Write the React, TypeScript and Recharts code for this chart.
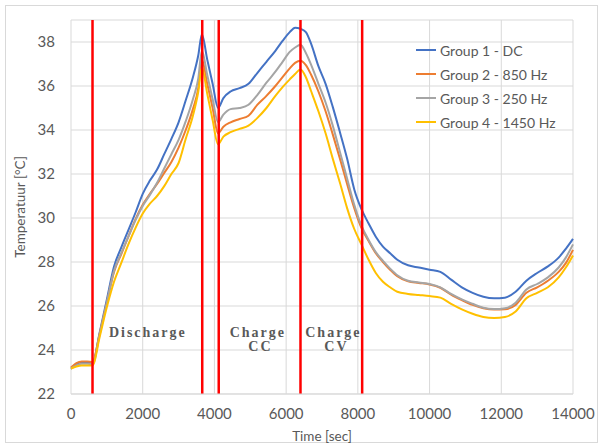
import React from 'react';
import { LineChart, Line, XAxis, YAxis, CartesianGrid, ReferenceLine, ReferenceDot, Legend } from 'recharts';

const times = [0, 150, 300, 450, 600, 800, 1000, 1200, 1400, 1600, 1800, 2000, 2200, 2400, 2600, 2800, 3000, 3200, 3400, 3550, 3650, 3800, 3950, 4100, 4250, 4450, 4700, 4950, 5200, 5450, 5700, 5900, 6100, 6250, 6400, 6550, 6700, 6900, 7100, 7300, 7500, 7700, 7900, 8100, 8300, 8500, 8700, 8900, 9100, 9400, 9700, 10000, 10300, 10600, 10900, 11200, 11500, 11800, 12100, 12400, 12700, 13000, 13300, 13600, 13800, 14000];

const group1 = [23.15, 23.35, 23.45, 23.45, 23.4, 24.8, 26.3, 27.8, 28.65, 29.45, 30.25, 31.1, 31.7, 32.2, 32.9, 33.6, 34.35, 35.35, 36.4, 37.4, 38.35, 37.2, 36.1, 35.0, 35.45, 35.75, 35.9, 36.1, 36.6, 37.1, 37.6, 38.05, 38.45, 38.65, 38.6, 38.45, 37.9, 36.9, 36.1, 35.05, 33.9, 32.7, 31.3, 30.4, 29.75, 29.15, 28.7, 28.4, 28.1, 27.85, 27.75, 27.65, 27.55, 27.2, 26.85, 26.6, 26.42, 26.35, 26.38, 26.65, 27.15, 27.5, 27.8, 28.2, 28.6, 29.05];

const group2 = [23.2, 23.4, 23.48, 23.48, 23.45, 24.75, 26.15, 27.55, 28.35, 29.15, 29.95, 30.6, 31.1, 31.55, 32.05, 32.55, 33.2, 34.0, 34.95, 35.9, 37.2, 36.1, 35.0, 33.85, 34.15, 34.35, 34.5, 34.65, 35.15, 35.55, 36.0, 36.4, 36.8, 37.05, 37.15, 36.95, 36.5, 35.75, 34.85, 33.8, 32.7, 31.55, 30.45, 29.55, 28.95, 28.4, 28.0, 27.65, 27.35, 27.12, 27.05, 26.98, 26.83, 26.52, 26.27, 26.05, 25.9, 25.84, 25.85, 26.05, 26.6, 26.85, 27.15, 27.55, 27.95, 28.55];

const group3 = [23.15, 23.3, 23.38, 23.38, 23.35, 24.7, 26.15, 27.6, 28.4, 29.15, 29.9, 30.55, 31.05, 31.6, 32.25, 32.9, 33.55, 34.4, 35.4, 36.35, 37.6, 36.5, 35.4, 34.35, 34.7, 34.95, 35.0, 35.15, 35.6, 36.15, 36.65, 37.1, 37.55, 37.75, 37.88, 37.5, 36.95, 36.1, 35.25, 34.2, 33.0, 31.8, 30.6, 29.65, 29.0, 28.45, 28.05, 27.7, 27.4, 27.15, 27.07, 27.0, 26.85, 26.55, 26.3, 26.1, 25.92, 25.86, 25.9, 26.15, 26.75, 27.0, 27.3, 27.75, 28.2, 28.8];

const group4 = [23.15, 23.25, 23.3, 23.3, 23.3, 24.6, 25.95, 27.1, 27.95, 28.8, 29.55, 30.2, 30.65, 31.0, 31.45, 32.0, 32.5, 33.6, 34.65, 35.75, 36.85, 35.65, 34.45, 33.35, 33.7, 33.9, 34.05, 34.2, 34.55, 35.0, 35.55, 35.95, 36.3, 36.55, 36.75, 36.4, 35.75, 34.85, 33.85, 32.7, 31.6, 30.45, 29.5, 28.8, 28.1, 27.5, 27.1, 26.85, 26.65, 26.55, 26.5, 26.45, 26.38, 26.1, 25.85, 25.65, 25.5, 25.45, 25.5, 25.75, 26.35, 26.6, 26.85, 27.3, 27.75, 28.3];

const seriesNames = ['Group 1 - DC', 'Group 2 - 850 Hz', 'Group 3 - 250 Hz', 'Group 4 - 1450 Hz'];
const seriesColors = ['#4472C4', '#ED7D31', '#A5A5A5', '#FFC000'];

const xTicks = [0, 2000, 4000, 6000, 8000, 10000, 12000, 14000];
const yTicks = [22, 24, 26, 28, 30, 32, 34, 36, 38];

const phaseLines = [600, 3660, 4120, 6400, 8120];

const annoTexts = ['Discharge', 'Charge', 'CC', 'Charge', 'CV'];
const annoX = [2143, 5212, 5282, 7318, 7402];
const annoY = [24.6, 24.6, 23.95, 24.6, 23.95];

const allSeries = [group1, group2, group3, group4];
const data = times.map((t, i) => {
  const row: Record<string, number> = { t };
  allSeries.forEach((s, k) => { row['g' + k] = s[i]; });
  return row;
});

const FONT = 'Lato, "Open Sans", sans-serif';
const TEXT = '#595959';

const LegendContent = (props: any) => {
  const payload = props.payload || [];
  return (
    <div style={{ fontFamily: FONT, fontSize: 14, color: TEXT }}>
      {payload.map((p: any, i: number) => (
        <div key={i} style={{ height: 24, display: 'flex', alignItems: 'center' }}>
          <svg width={22} height={4} style={{ marginRight: 2 }}>
            <line x1={0} y1={2} x2={20} y2={2} stroke={p.color} strokeWidth={2} />
          </svg>
          <span style={{ whiteSpace: 'nowrap' }}>{p.value}</span>
        </div>
      ))}
    </div>
  );
};

export default function App() {
  return (
    <div style={{ position: 'absolute', left: 0, top: 0, width: 603, height: 448, background: '#fff' }}>
      <div style={{ position: 'absolute', left: 5, top: 5, width: 593, height: 438, border: '1px solid #D9D9D9', boxSizing: 'border-box' }} />
      <div style={{ position: 'absolute', left: 0, top: 0 }}>
        <LineChart width={603} height={448} data={data} margin={{ top: 20, right: 30, bottom: 6, left: 0 }}>
          <CartesianGrid stroke="#D9D9D9" strokeWidth={1} />
          <XAxis
            dataKey="t"
            type="number"
            domain={[0, 14000]}
            ticks={xTicks}
            height={48}
            tickLine={false}
            axisLine={{ stroke: '#D9D9D9' }}
            tickSize={6}
            tickMargin={8}
            tick={{ fill: TEXT, fontSize: 15, fontFamily: FONT }}
            label={{
              content: () => (
                <text x={322} y={436} textAnchor="middle" dominantBaseline="central" fill={TEXT} fontSize={13.5} fontFamily={FONT}>Time [sec]</text>
              ),
            }}
          />
          <YAxis
            type="number"
            domain={[22, 39]}
            ticks={yTicks}
            width={71}
            tickLine={false}
            axisLine={false}
            tickSize={6}
            tickMargin={10}
            tick={{ fill: TEXT, fontSize: 15, fontFamily: FONT }}
            label={{
              content: () => (
                <text x={20} y={207} transform="rotate(-90 20 207)" textAnchor="middle" dominantBaseline="central" fill={TEXT} fontSize={13.5} fontFamily={FONT}>Temperatuur [°C]</text>
              ),
            }}
          />
          {allSeries.map((_, k) => (
            <Line
              key={k}
              type="monotone"
              dataKey={'g' + k}
              name={seriesNames[k]}
              stroke={seriesColors[k]}
              strokeWidth={2}
              dot={false}
              activeDot={false}
              isAnimationActive={false}
            />
          ))}
          {phaseLines.map((x, i) => (
            <ReferenceLine key={'r' + i} x={x} stroke="#FF0000" strokeWidth={2.5} />
          ))}
          {annoTexts.map((txt, i) => (
            <ReferenceDot
              key={'a' + i}
              x={annoX[i]}
              y={annoY[i]}
              r={0}
              shape={(p: any) => (
                <text x={p.cx} y={p.cy} textAnchor="middle" fill={TEXT} fontSize={14} fontWeight="bold" fontFamily='"Liberation Serif", "DejaVu Serif", serif' letterSpacing={2}>{txt}</text>
              )}
            />
          ))}
          <Legend
            layout="vertical"
            align="center"
            verticalAlign="middle"
            wrapperStyle={{ left: 416, top: 38, width: 'auto' }}
            content={LegendContent}
          />
        </LineChart>
      </div>
    </div>
  );
}
